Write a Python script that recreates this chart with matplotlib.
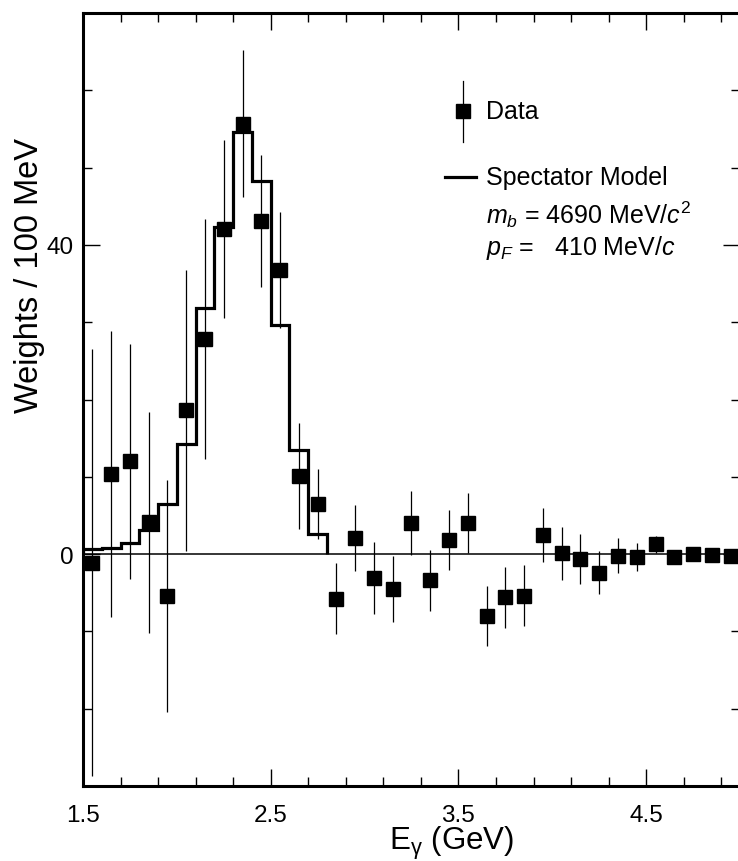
import numpy as np
import matplotlib
matplotlib.use("Agg")
import matplotlib.pyplot as plt
from matplotlib.ticker import MultipleLocator, FixedLocator

plt.rcParams['font.family'] = ['Liberation Sans', 'DejaVu Sans']
plt.rcParams['mathtext.fontset'] = 'custom'
plt.rcParams['mathtext.rm'] = 'Liberation Sans'
plt.rcParams['mathtext.it'] = 'Liberation Sans:italic'

# data points (bin centres, GeV) and weights per 100 MeV
energy = [1.55, 1.65, 1.75, 1.85, 1.95, 2.05, 2.15, 2.25, 2.35, 2.45,
          2.55, 2.65, 2.75, 2.85, 2.95, 3.05, 3.15, 3.25, 3.35, 3.45,
          3.55, 3.65, 3.75, 3.85, 3.95, 4.05, 4.15, 4.25, 4.35, 4.45,
          4.55, 4.65, 4.75, 4.85, 4.95]
weights = [-1.1, 10.3, 12.0, 4.1, -5.4, 18.6, 27.8, 42.1, 55.7, 43.1,
           36.7, 10.1, 6.5, -5.8, 2.1, -3.1, -4.5, 4.0, -3.4, 1.8,
           4.0, -8.0, -5.6, -5.4, 2.5, 0.1, -0.6, -2.4, -0.2, -0.4,
           1.3, -0.35, 0.0, -0.1, -0.3]
errors = [27.6, 18.5, 15.2, 14.3, 15.0, 18.2, 15.5, 11.5, 9.5, 8.5,
          7.5, 6.8, 4.5, 4.6, 4.3, 4.7, 4.3, 4.1, 3.9, 3.9,
          3.9, 3.9, 3.9, 3.95, 3.5, 3.4, 3.25, 2.8, 2.3, 1.8,
          1.1, 0.5, 0.4, 0.3, 0.3]

# spectator model histogram (bins 1.5 - 2.8 GeV)
model_edges = [1.5, 1.6, 1.7, 1.8, 1.9, 2.0, 2.1, 2.2, 2.3, 2.4, 2.5, 2.6, 2.7, 2.8]
model_vals = [0.6, 0.8, 1.4, 3.1, 6.5, 14.3, 31.8, 42.3, 54.6, 48.3, 29.6, 13.5, 2.6]

fig = plt.figure(figsize=(7.38, 8.62), dpi=100)
ax = fig.add_axes([83/738, 75/862, 657/738, 773/862])

ax.axhline(0, color='black', lw=1.1, zorder=1)
ax.stairs(model_vals, model_edges, baseline=0, color='black', lw=2.3, zorder=2)
ax.errorbar(energy, weights, yerr=errors, fmt='s', color='black', ms=9.5,
            elinewidth=0.9, capsize=0, zorder=3)

ax.set_xlim(1.5, 5.0)
ax.set_ylim(-30, 70)

ax.xaxis.set_major_locator(FixedLocator([1.5, 2.5, 3.5, 4.5]))
ax.xaxis.set_minor_locator(MultipleLocator(0.2, offset=0.1))
ax.yaxis.set_major_locator(MultipleLocator(40))
ax.yaxis.set_minor_locator(MultipleLocator(10))
ax.set_xticklabels(['1.5', '2.5', '3.5', '4.5'])

ax.tick_params(which='both', direction='in', top=True, right=True, width=1.0,
               labelsize=17.5)
ax.tick_params(which='major', length=12)
ax.tick_params(which='minor', length=6.5)
ax.tick_params(axis='x', pad=13)
ax.tick_params(axis='y', pad=7)
for s in ax.spines.values():
    s.set_linewidth(2.2)

ax.set_ylabel('Weights / 100 MeV', fontsize=23.5)
ax.yaxis.set_label_coords(-0.058, 0.662)
ax.set_xlabel(r'E$_{\mathrm{\gamma}}$ (GeV)', fontsize=22.5)
ax.xaxis.set_label_coords(0.5616, -0.0495)

# legend drawn by hand
ax.plot([0.5786, 0.5786], [0.833, 0.912], color='black', lw=0.9, transform=ax.transAxes)
ax.plot([0.5786], [0.8732], 's', color='black', ms=9.5, transform=ax.transAxes)
ax.text(0.6137, 0.8732, 'Data', fontsize=18, va='center', transform=ax.transAxes)
ax.plot([0.5511, 0.5985], [0.7878, 0.7878], color='black', lw=2.3, transform=ax.transAxes)
ax.text(0.6137, 0.7878, 'Spectator Model', fontsize=18, va='center', transform=ax.transAxes)
ax.text(0.6137, 0.740, r'$m_b$ = 4690 MeV/$c^2$', fontsize=18, va='center',
        transform=ax.transAxes)
ax.text(0.6137, 0.697, r'$p_F$ =   410 MeV/$c$', fontsize=18, va='center',
        transform=ax.transAxes)

fig.savefig('out.png', dpi=100)
